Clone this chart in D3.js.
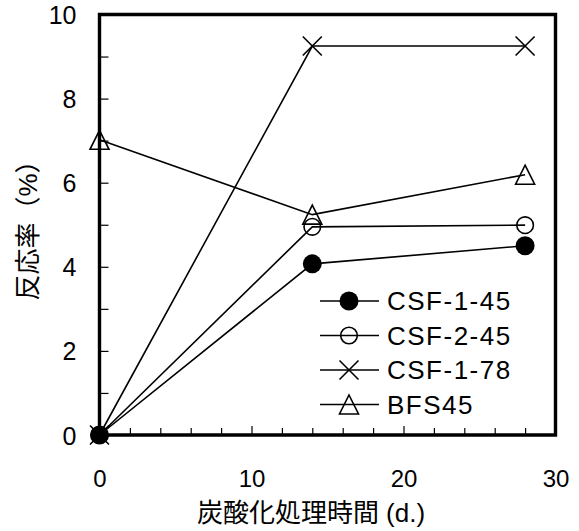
<!DOCTYPE html>
<html>
<head>
<meta charset="utf-8">
<script src="https://cdn.jsdelivr.net/npm/d3@7"></script>
<style>
  html, body { margin: 0; padding: 0; background: #fff; }
  svg { display: block; }
  text { font-family: "Liberation Sans", Arial, "Noto Sans CJK JP", sans-serif; fill: #000; }
  .cjk { font-family: "Liberation Sans", "Noto Sans CJK JP", sans-serif; }
</style>
</head>
<body>
<svg id="chart" width="579" height="531"></svg>
<script>
// ---- data ----
const days = [0, 14, 28];
const seriesNames = ["CSF-1-45", "CSF-2-45", "CSF-1-78", "BFS45"];
const csf145 = [0, 4.07, 4.50];
const csf245 = [0, 4.95, 4.99];
const csf178 = [0, 9.25, 9.25];
const bfs45 = [7.02, 5.24, 6.19];
const xTicks = [0, 10, 20, 30];
const yTicks = [0, 2, 4, 6, 8, 10];
const xTitle = "炭酸化処理時間 (d.)";
const yTitle = "反応率（%）";

const seriesValues = [csf145, csf245, csf178, bfs45];
const markerTypes = ["filled", "circle", "cross", "triangle"];

const svg = d3.select("#chart");
const x = d3.scaleLinear().domain([0, 30]).range([99.5, 555.5]);
const y = d3.scaleLinear().domain([0, 10]).range([435, 14.5]);

// minor ticks (inward)
const gx = svg.append("g").attr("transform", `translate(0,${y(0)})`);
const xMinor = d3.range(2, 30, 2);
gx.call(d3.axisTop(x).tickValues(xMinor).tickSize(7).tickFormat(""))
  .call(g => g.select(".domain").remove())
  .call(g => g.selectAll("line").attr("stroke", "#000").attr("stroke-width", 1.2)
     .attr("y2", d => (d % 10 === 0) ? -9 : -7));

const gy = svg.append("g").attr("transform", `translate(${x(0)},0)`);
gy.call(d3.axisRight(y).tickValues(d3.range(1, 10, 1)).tickSize(9).tickFormat(""))
  .call(g => g.select(".domain").remove())
  .call(g => g.selectAll("line").attr("stroke", "#000").attr("stroke-width", 1.2));

// tick labels
const gxl = svg.append("g").attr("transform", `translate(0,${y(0)})`);
gxl.call(d3.axisBottom(x).tickValues(xTicks).tickSize(0).tickPadding(0).tickFormat(d3.format("d")))
  .call(g => g.select(".domain").remove())
  .call(g => g.selectAll("text").attr("y", 52).attr("dy", null)
     .style("font-size", "24px").attr("text-anchor", "middle"));

const gyl = svg.append("g").attr("transform", `translate(${x(0)},0)`);
gyl.call(d3.axisLeft(y).tickValues(yTicks).tickSize(0).tickPadding(0).tickFormat(d3.format("d")))
  .call(g => g.select(".domain").remove())
  .call(g => g.selectAll("text").attr("x", -23).attr("dy", "0.36em")
     .style("font-size", "25px").attr("text-anchor", "end"));

// frame (bold)
const fx0 = x(0), fx1 = x(30), fy0 = y(0), fy1 = y(10);
svg.append("path")
  .attr("d", `M${fx0},${fy0}L${fx0},${fy1}L${fx1},${fy1}L${fx1},${fy0}Z`)
  .style("fill", "none").style("stroke", "#000").style("stroke-width", "3.4px")
  .style("stroke-linejoin", "miter");

// series lines
const line = d3.line().x((d, i) => x(days[i])).y(d => y(d));
const gs = svg.append("g");
seriesValues.forEach(vals => {
  gs.append("path").attr("d", line(vals))
    .attr("fill", "none").attr("stroke", "#000").attr("stroke-width", 1.6);
});

function drawMarker(g, type, cx, cy) {
  if (type === "filled") {
    g.append("circle").attr("cx", cx).attr("cy", cy).attr("r", 9.5).attr("fill", "#000");
  } else if (type === "circle") {
    g.append("circle").attr("cx", cx).attr("cy", cy).attr("r", 8.3)
      .attr("fill", "none").attr("stroke", "#000").attr("stroke-width", 1.6);
  } else if (type === "cross") {
    const s = 9.5;
    g.append("path").attr("d", `M${cx - s},${cy - s}L${cx + s},${cy + s}M${cx - s},${cy + s}L${cx + s},${cy - s}`)
      .attr("stroke", "#000").attr("stroke-width", 1.6).attr("fill", "none");
  } else {
    const s = 9.5;
    g.append("path").attr("d", `M${cx},${cy - s}L${cx + s},${cy + s}L${cx - s},${cy + s}Z`)
      .attr("stroke", "#000").attr("stroke-width", 1.6).attr("fill", "none");
  }
}

// markers: draw in reverse so the filled circle sits on top
const gm = svg.append("g");
for (let k = seriesValues.length - 1; k >= 0; k--) {
  seriesValues[k].forEach((v, i) => drawMarker(gm, markerTypes[k], x(days[i]), y(v)));
}

// legend
const legendY = [301, 335.5, 370, 404.5];
const gl = svg.append("g");
seriesNames.forEach((name, k) => {
  const cy = legendY[k];
  gl.append("line").attr("x1", 320).attr("x2", 379).attr("y1", cy).attr("y2", cy)
    .attr("stroke", "#000").attr("stroke-width", 1.6);
  drawMarker(gl, markerTypes[k], 349, cy);
  gl.append("text").attr("x", 387).attr("y", cy).attr("dy", "0.36em")
    .style("font-size", "26px").style("letter-spacing", "1.5px").text(name);
});

// axis titles
svg.append("text").attr("class", "cjk")
  .attr("x", 311).attr("y", 522).attr("text-anchor", "middle")
  .style("font-size", "26px").text(xTitle);

svg.append("text").attr("class", "cjk")
  .attr("transform", `translate(37,224) rotate(-90)`).attr("text-anchor", "middle")
  .style("font-size", "26px").text(yTitle);
</script>
</body>
</html>
